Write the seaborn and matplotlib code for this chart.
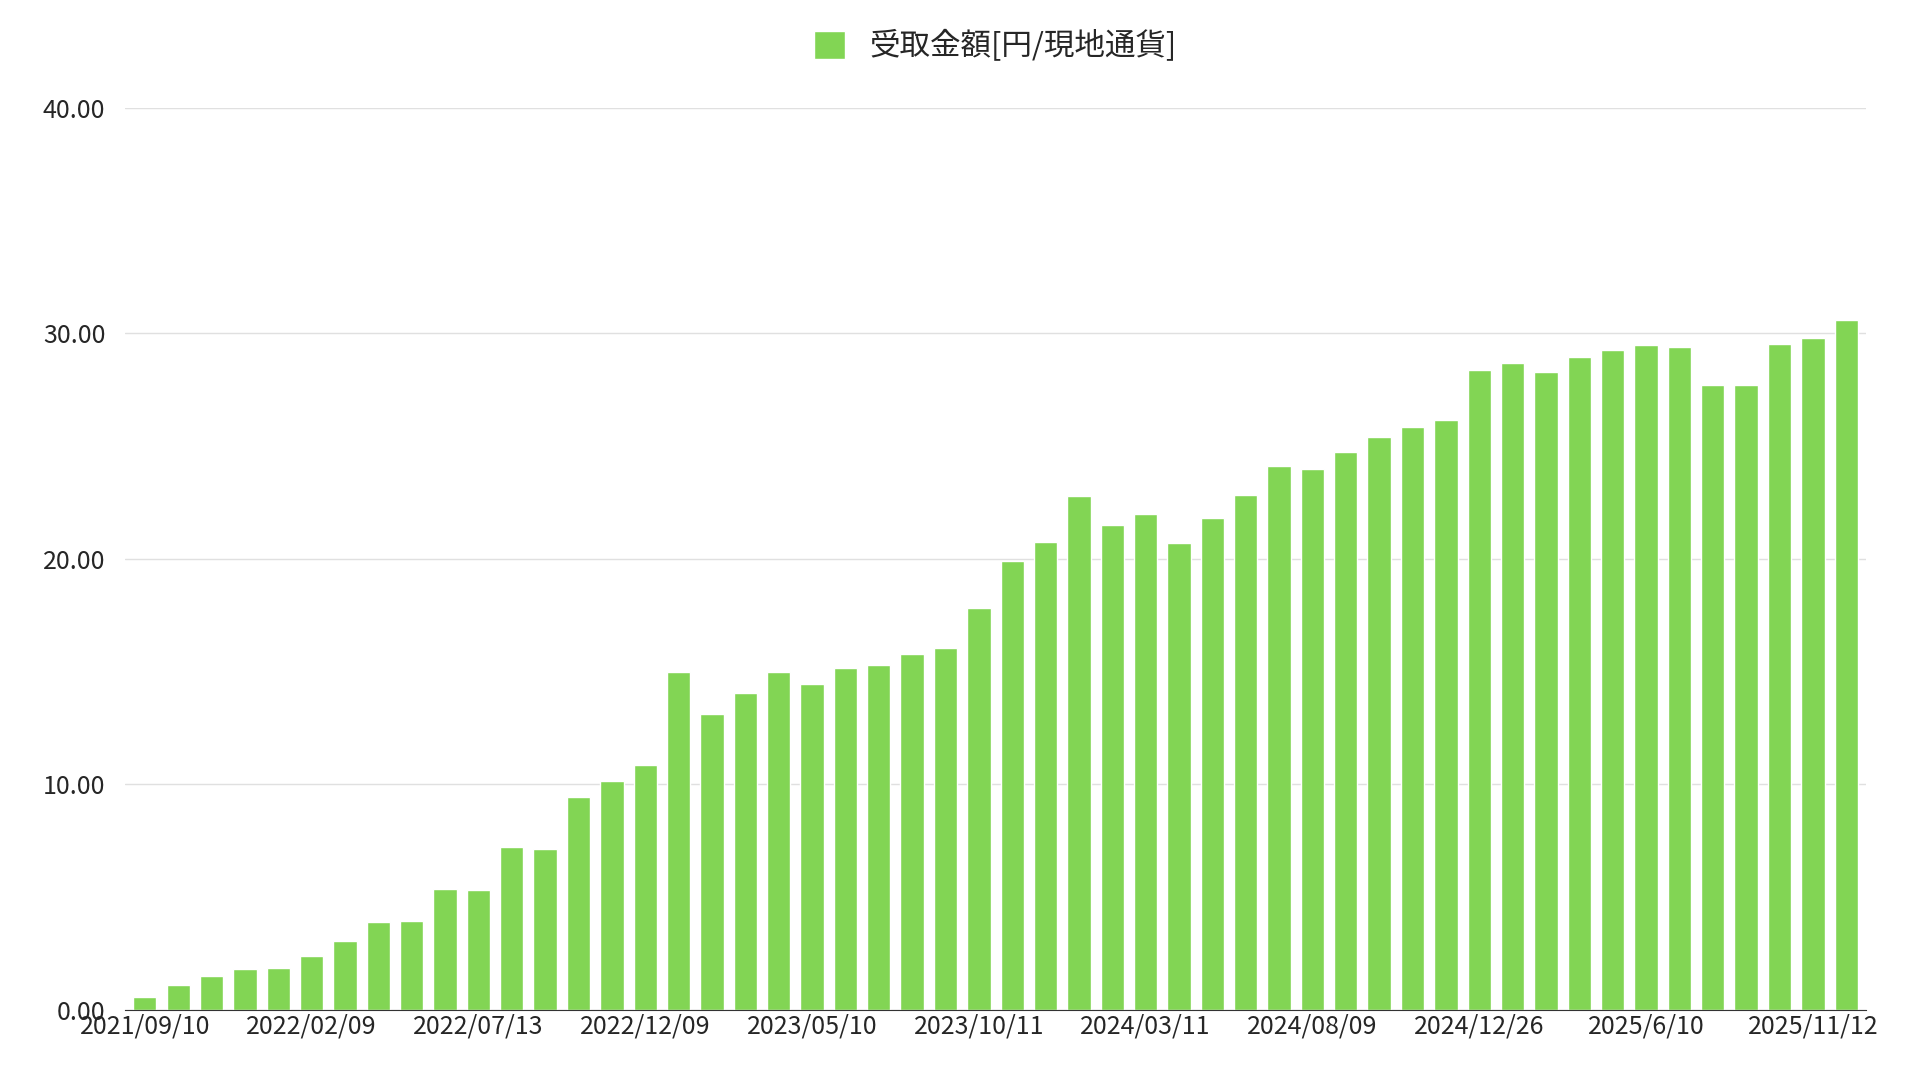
import numpy as np
import pandas as pd
import matplotlib
matplotlib.use('Agg')
import matplotlib.pyplot as plt
import seaborn as sns

# monthly payouts, 52 bars; only every 5th date is labelled
amounts = [0.55, 1.1, 1.5, 1.8, 1.85, 2.4, 3.05, 3.9, 3.95, 5.35,
           5.3, 7.2, 7.15, 9.45, 10.15, 10.85, 15.0, 13.1, 14.05, 15.0,
           14.45, 15.15, 15.3, 15.8, 16.05, 17.8, 19.9, 20.75, 22.8, 21.5,
           22.0, 20.7, 21.8, 22.85, 24.1, 24.0, 24.75, 25.4, 25.85, 26.15,
           28.4, 28.7, 28.3, 28.95, 29.25, 29.5, 29.4, 27.7, 27.7, 29.55,
           29.8, 30.6]
tick_labels = ['2021/09/10', '2022/02/09', '2022/07/13', '2022/12/09', '2023/05/10',
               '2023/10/11', '2024/03/11', '2024/08/09', '2024/12/26', '2025/6/10',
               '2025/11/12']
tick_step = 5
series_name = '受取金額[円/現地通貨]'

df = pd.DataFrame({'idx': np.arange(len(amounts)), 'amount': amounts})

sns.set_style('white')
plt.rcParams['font.family'] = ['Noto Sans CJK JP', 'DejaVu Sans']

fig, ax = plt.subplots(figsize=(19.2, 10.8), dpi=100)
fig.subplots_adjust(left=0.065, right=0.972, top=0.90, bottom=0.065)
sns.barplot(data=df, x='idx', y='amount', color='#82d554', saturation=1,
            width=0.7, ax=ax, label=series_name)

ax.set_ylim(0, 40)
ax.set_yticks([0, 10, 20, 30, 40])
ax.set_yticklabels([f'{v:.2f}' for v in [0, 10, 20, 30, 40]])
ax.set_xticks(np.arange(0, len(amounts), tick_step))
ax.set_xticklabels(tick_labels)
ax.set_xlim(-0.6, len(amounts) - 0.4)
ax.tick_params(axis='x', labelsize=18, length=0, pad=3)
ax.tick_params(axis='y', labelsize=18, length=0, pad=14)
ax.yaxis.grid(True, color='#e0e0e0', linewidth=1)
ax.set_axisbelow(True)
for s in ['top', 'right', 'left']:
    ax.spines[s].set_visible(False)
ax.spines['bottom'].set_color('#333333')
ax.set_xlabel('')
ax.set_ylabel('')

ax.legend(loc='lower center', bbox_to_anchor=(0.5, 1.02), frameon=False,
          fontsize=22, handlelength=1.0, handleheight=1.0)

fig.savefig('out.png', dpi=100)
